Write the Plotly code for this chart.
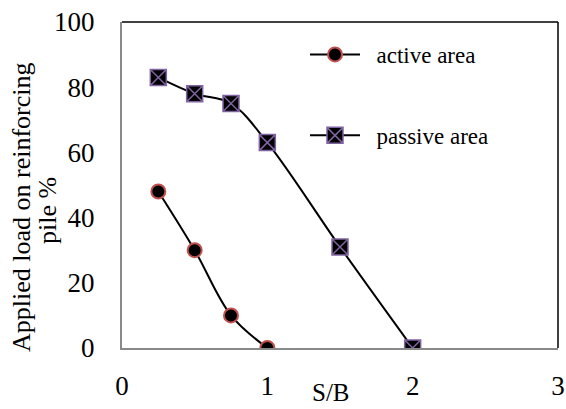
import plotly.graph_objects as go

active_x = [0.25, 0.5, 0.75, 1.0]
active_y = [48, 30, 10, 0]
passive_x = [0.25, 0.5, 0.75, 1.0, 1.5, 2.0]
passive_y = [83, 78, 75, 63, 31, 0]
x_ticks = [0, 1, 2, 3]
y_ticks = [0, 20, 40, 60, 80, 100]

FONT = "Liberation Serif"

L, T, R, B = 122, 22, 8, 61
W, H = 566, 409
PW, PH = W - L - R, H - T - B  # plot area size


def px_x(px):
    return (px - L) / PW


def px_y(py):
    return (H - B - py) / PH


fig = go.Figure()
fig.add_trace(go.Scatter(
    x=active_x, y=active_y, name="  active area", mode="lines+markers",
    line=dict(color="black", width=2, shape="spline"),
    marker=dict(symbol="circle", size=14, color="black",
                line=dict(color="#c0504d", width=2)),
    legendgroup="a",
))
fig.add_trace(go.Scatter(
    x=passive_x, y=passive_y, name="  passive area", mode="lines+markers",
    line=dict(color="black", width=2, shape="spline"),
    marker=dict(symbol="square-x", size=16, color="black",
                line=dict(color="#8064a2", width=1.5)),
    legendgroup="p",
))

fig.update_layout(
    width=W, height=H,
    margin=dict(l=L, r=R, t=T, b=B, autoexpand=False),
    paper_bgcolor="white", plot_bgcolor="white",
    font=dict(family=FONT, size=27, color="black"),
    showlegend=True,
    legend=dict(
        x=px_x(305), y=px_y(33), xanchor="left", yanchor="top",
        bgcolor="rgba(0,0,0,0)", font=dict(size=23, family=FONT),
        tracegroupgap=48, itemwidth=50,
    ),
    xaxis=dict(range=[0, 3], tickvals=x_ticks, showgrid=False, zeroline=False,
               showline=True, linecolor="#898989", linewidth=2, automargin=False,
               ticks="", ticklabelstandoff=13, ticklabeloverflow="allow"),
    yaxis=dict(range=[0, 100], tickvals=y_ticks, showgrid=False, zeroline=False,
               showline=True, linecolor="#898989", linewidth=2, automargin=False,
               ticks="", ticklabelstandoff=20, ticklabeloverflow="allow"),
    shapes=[
        dict(type="line", xref="paper", yref="paper", x0=0, x1=1, y0=1, y1=1,
             line=dict(color="black", width=1.5)),
        dict(type="line", xref="paper", yref="paper", x0=1, x1=1, y0=0, y1=1,
             line=dict(color="black", width=1.5)),
    ],
    annotations=[
        dict(text="Applied load on reinforcing", xref="paper", yref="paper",
             x=px_x(21), y=px_y(207), xanchor="center", yanchor="middle",
             textangle=-90, showarrow=False, font=dict(size=26, family=FONT)),
        dict(text="pile %", xref="paper", yref="paper",
             x=px_x(47), y=px_y(211), xanchor="center", yanchor="middle",
             textangle=-90, showarrow=False, font=dict(size=26, family=FONT)),
        dict(text="S/B", xref="paper", yref="paper",
             x=px_x(331), y=px_y(408), xanchor="center", yanchor="bottom",
             showarrow=False, font=dict(size=25, family=FONT)),
    ],
)

fig.write_html(
    "out.html",
    config={"displayModeBar": False},
    post_script="document.body.style.margin='0';"
                "document.documentElement.style.overflow='hidden';",
)
